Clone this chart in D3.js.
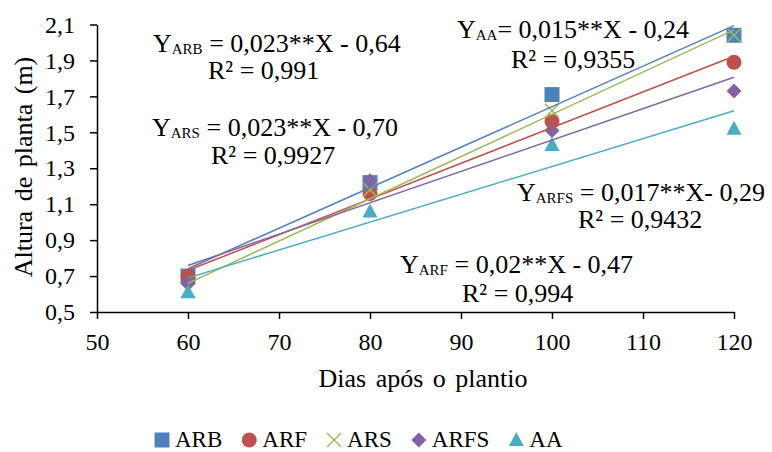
<!DOCTYPE html>
<html>
<head>
<meta charset="utf-8">
<script src="https://cdn.jsdelivr.net/npm/d3@7"></script>
<style>
  body { margin: 0; background: #fff; }
  svg { display: block; }
</style>
</head>
<body>
<div id="chart"></div>
<script>
// data
const days = [60, 80, 100, 120];
const seriesNames = ["ARB", "ARF", "ARS", "ARFS", "AA"];
const ARB = [0.70, 1.22, 1.71, 2.04];
const ARF = [0.70, 1.16, 1.56, 1.89];
const ARS = [0.62, 1.18, 1.62, 2.04];
const ARFS = [0.66, 1.23, 1.51, 1.73];
const AA = [0.61, 1.06, 1.43, 1.52];
const colors = ["#4F81BD", "#C0504D", "#9BBB59", "#8064A2", "#4BACC6"];
const xTicks = [50, 60, 70, 80, 90, 100, 110, 120];
const yTicks = [0.5, 0.7, 0.9, 1.1, 1.3, 1.5, 1.7, 1.9, 2.1];

// equation labels
const eqNames = ["ARB", "ARS", "AA", "ARFS", "ARF"];
const eqRight = [" = 0,023**X - 0,64", " = 0,023**X - 0,70", "= 0,015**X - 0,24", " = 0,017**X- 0,29", " = 0,02**X - 0,47"];
const eqR2 = ["R² = 0,991", "R² = 0,9927", "R² = 0,9355", "R² = 0,9432", "R² = 0,994"];

const values = [ARB, ARF, ARS, ARFS, AA];

const FONT = "Liberation Serif";
const W = 772, H = 452;
const svg = d3.select("#chart").append("svg").attr("width", W).attr("height", H);

const x = d3.scaleLinear().domain([50, 120]).range([97, 734]);
const y = d3.scaleLinear().domain([0.5, 2.1]).range([312, 24.5]);
const fmt = d => d.toFixed(1).replace(".", ",");

// axes
const gx = svg.append("g").attr("transform", "translate(0," + y(0.5) + ")")
  .call(d3.axisBottom(x).tickValues(xTicks).tickFormat(d => d).tickSize(7).tickSizeOuter(0).tickPadding(14));
const gy = svg.append("g").attr("transform", "translate(" + x(50) + ",0)")
  .call(d3.axisLeft(y).tickValues(yTicks).tickFormat(fmt).tickSize(7).tickSizeOuter(0).tickPadding(15));
[gx, gy].forEach(g => {
  g.attr("font-family", null);
  g.selectAll("path, line").attr("stroke", "#000").attr("stroke-width", 1.5);
  g.selectAll("text").attr("font-size", 24).attr("fill", "#000").style("font-family", FONT);
});

// axis titles
svg.append("text").attr("x", 423).attr("y", 387).attr("text-anchor", "middle")
  .attr("font-size", 26).attr("word-spacing", 3).style("font-family", FONT).text("Dias após o plantio");
svg.append("text").attr("transform", "translate(32,167) rotate(-90)").attr("text-anchor", "middle")
  .attr("font-size", 26).attr("word-spacing", 3).style("font-family", FONT).text("Altura de planta (m)");

// marker shapes
function drawMarker(g, i, cx, cy) {
  const c = colors[i];
  if (i === 0) {
    g.append("rect").attr("x", cx - 7.5).attr("y", cy - 7.5).attr("width", 15).attr("height", 15).attr("fill", c);
  } else if (i === 1) {
    g.append("circle").attr("cx", cx).attr("cy", cy).attr("r", 7.5).attr("fill", c);
  } else if (i === 2) {
    g.append("path").attr("d", `M${cx - 7},${cy - 7}L${cx + 7},${cy + 7}M${cx - 7},${cy + 7}L${cx + 7},${cy - 7}`)
      .attr("stroke", c).attr("stroke-width", 1.5).attr("fill", "none");
  } else if (i === 3) {
    g.append("path").attr("d", `M${cx},${cy - 7.5}L${cx + 7.5},${cy}L${cx},${cy + 7.5}L${cx - 7.5},${cy}Z`).attr("fill", c);
  } else {
    g.append("path").attr("d", `M${cx},${cy - 8}L${cx + 7.5},${cy + 6}L${cx - 7.5},${cy + 6}Z`).attr("fill", c);
  }
}

// points
const pts = svg.append("g");
values.forEach((vals, i) => {
  vals.forEach((v, k) => drawMarker(pts, i, x(days[k]), y(v)));
});

// linear trendlines (least squares from the points)
const trend = svg.append("g");
values.forEach((vals, i) => {
  const mx = d3.mean(days), my = d3.mean(vals);
  const b = d3.sum(days, (d, k) => (d - mx) * (vals[k] - my)) / d3.sum(days, d => (d - mx) * (d - mx));
  const a = my - b * mx;
  const ends = [d3.min(days), d3.max(days)];
  trend.append("path")
    .attr("d", d3.line().x(d => x(d)).y(d => y(a + b * d))(ends))
    .attr("stroke", colors[i]).attr("stroke-width", 1.5).attr("fill", "none");
});

// equations
const eqPos = [[153, 52, 208, 79], [152, 136, 211, 164], [457, 38, 511, 68], [517, 201, 578, 228], [400, 273, 462, 302]];
const eqG = svg.append("g");
eqNames.forEach((n, i) => {
  const p = eqPos[i];
  const t = eqG.append("text").attr("x", p[0]).attr("y", p[1])
    .attr("font-size", 26).attr("fill", "#000").style("font-family", FONT);
  t.append("tspan").text("Y");
  t.append("tspan").attr("font-size", 15).attr("dy", 2).text(n);
  t.append("tspan").attr("dy", -2).text(eqRight[i]);
  eqG.append("text").attr("x", p[2]).attr("y", p[3])
    .attr("font-size", 26).attr("fill", "#000").style("font-family", FONT).text(eqR2[i]);
});

// legend
const leg = svg.append("g");
let cursor = 162;
seriesNames.forEach((n, i) => {
  drawMarker(leg, i, cursor, 440);
  const t = leg.append("text").attr("x", cursor + 13).attr("y", 447)
    .attr("font-size", 23).style("font-family", FONT).text(n);
  cursor += 13 + t.node().getComputedTextLength() + 27;
});
</script>
</body>
</html>
